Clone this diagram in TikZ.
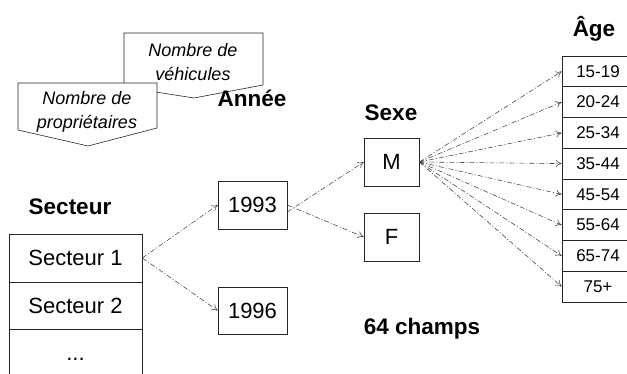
\documentclass[tikz,border=0pt]{standalone}
\usepackage{fontspec}
\setmainfont{Liberation Sans}
\usetikzlibrary{arrows.meta}
\begin{document}
\begin{tikzpicture}[x=1pt,y=-1pt,
  cell/.style={draw=black!85,line width=0.6pt,inner sep=0pt,font=\fontsize{22}{26}\selectfont},
  agecell/.style={draw=black!85,line width=0.6pt,inner sep=0pt,minimum width=72pt,minimum height=30.75pt,font=\fontsize{17}{20}\selectfont},
  title/.style={font=\fontsize{22.5}{26}\selectfont\bfseries},
  callout/.style={draw=black!85,line width=0.6pt,fill=white},
  callouttext/.style={font=\fontsize{18}{24}\selectfont\itshape,align=center},
  conn/.style={draw=black!75,line width=0.55pt,dash pattern=on 5pt off 2pt on 1pt off 2pt,-{To[length=6pt,width=7pt]}}
]
\useasboundingbox (0,0) rectangle (627,374);

% callouts
\draw[callout] (124,33) -- (263,33) -- (263,85) -- (194,98) -- (124,87) -- cycle;
\node[callouttext] (veh) at (193,62) {Nombre de\\véhicules};
\draw[callout] (18,83) -- (157,83) -- (157,128) -- (88,146) -- (18,130) -- cycle;
\node[callouttext] (prop) at (87,112) {Nombre de\\propriétaires};

% titles
\node[title] (tsect) at (70,207) {Secteur};
\node[title] (tan) at (252,98) {Année};
\node[title] (tsexe) at (391,113) {Sexe};
\node[title] (tage) at (594,29) {Âge};
\node[title] (champs) at (422,329) {64 champs};

% secteur table
\node[cell,minimum width=133pt,minimum height=48pt] (s1) at (75.5,258) {Secteur 1};
\node[cell,minimum width=133pt,minimum height=47pt] (s2) at (75.5,305.5) {Secteur 2};
\node[cell,minimum width=133pt,minimum height=61pt] (s3) at (75.5,359.5) {...};

% year
\node[cell,minimum width=69pt,minimum height=48pt] (y93) at (252.5,205) {1993};
\node[cell,minimum width=69pt,minimum height=47pt] (y96) at (252.5,310.5) {1996};

% sexe
\node[cell,minimum width=55pt,minimum height=48pt] (m) at (391.5,162) {M};
\node[cell,minimum width=55pt,minimum height=48pt] (f) at (391.5,237) {F};

% age table
\node[agecell] (a1) at (598,71.4) {15-19};
\node[agecell] (a2) at (598,102.1) {20-24};
\node[agecell] (a3) at (598,132.9) {25-34};
\node[agecell] (a4) at (598,163.6) {35-44};
\node[agecell] (a5) at (598,194.4) {45-54};
\node[agecell] (a6) at (598,225.1) {55-64};
\node[agecell] (a7) at (598,255.9) {65-74};
\node[agecell] (a8) at (598,286.6) {75+};

% connectors
\draw[conn] (s1.east) -- (y93.west);
\draw[conn] (s1.east) -- (y96.west);
\draw[conn] ([yshift=-7pt]y93.east) -- (m.west);
\draw[conn] (y93.east) -- (f.west);
\foreach \a in {a1,a2,a3,a4,a5,a6,a7,a8}
  \draw[conn] (m.east) -- (\a.west);
\end{tikzpicture}
\end{document}
